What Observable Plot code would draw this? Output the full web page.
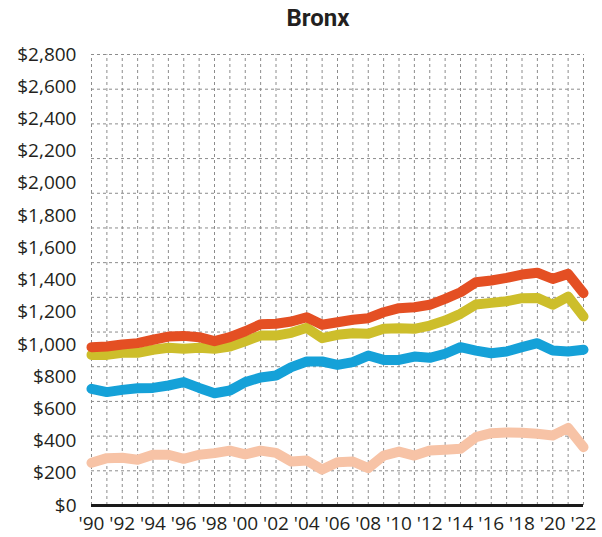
<!DOCTYPE html>
<html>
<head>
<meta charset="utf-8">
<script src="https://cdn.jsdelivr.net/npm/d3@7"></script>
<script src="https://cdn.jsdelivr.net/npm/@observablehq/plot@0.6"></script>
<style>
  html, body { margin: 0; padding: 0; background: #fff; }
  #title { width: 602px; height: 36px; line-height: 36px; box-sizing: border-box; padding-left: 34px; text-align: center;
    font-family: "Liberation Sans Narrow", "Roboto", sans-serif; font-weight: bold; font-size: 24px; color: #231f20; }
</style>
</head>
<body>
<div id="title">Bronx</div>
<div id="chart"></div>
<script>
const years = [1990,1991,1992,1993,1994,1995,1996,1997,1998,1999,2000,2001,2002,2003,2004,2005,2006,2007,2008,2009,2010,2011,2012,2013,2014,2015,2016,2017,2018,2019,2020,2021,2022];
const seriesRed = [983,987,1000,1008,1029,1049,1053,1045,1020,1045,1082,1125,1128,1142,1169,1122,1138,1153,1163,1200,1225,1231,1246,1283,1324,1386,1397,1413,1434,1445,1407,1438,1318];
const seriesYellow = [935,935,948,948,967,979,973,979,973,987,1020,1055,1055,1072,1103,1039,1060,1070,1066,1097,1101,1097,1117,1148,1190,1248,1258,1268,1287,1289,1246,1297,1173];
const seriesBlue = [724,704,718,728,730,745,766,730,697,714,766,795,807,859,894,894,873,890,931,904,904,925,917,942,983,962,945,956,983,1008,962,956,967];
const seriesPink = [265,294,296,284,315,315,290,315,325,341,317,341,327,273,279,223,269,273,232,310,335,310,341,346,352,424,449,453,451,445,435,482,362];
const yTicks = [0,200,400,600,800,1000,1200,1400,1600,1800,2000,2200,2400,2600,2800];
const xTicks = [1990,1992,1994,1996,1998,2000,2002,2004,2006,2008,2010,2012,2014,2016,2018,2020,2022];
// the reference draws its horizontal grid in 13 equal bands of the axis span
const gridY = d3.range(14).map(i => i * 2800 / 13);

const seriesList = [
  {name: "pink", values: seriesPink, color: "#f7c3a6"},
  {name: "blue", values: seriesBlue, color: "#15a1d8"},
  {name: "yellow", values: seriesYellow, color: "#cdbe2b"},
  {name: "red", values: seriesRed, color: "#e44f23"}
];

const lineMarks = seriesList.map(s => Plot.line(
  years.map((y, i) => ({year: y, value: s.values[i]})),
  {x: "year", y: "value", stroke: s.color, strokeWidth: 10, strokeLinecap: "round", strokeLinejoin: "round"}
));

const chart = Plot.plot({
  width: 602,
  height: 501,
  marginTop: 18,
  marginBottom: 32,
  marginLeft: 91,
  marginRight: 19,
  style: {fontFamily: "'Open Sans', sans-serif", fontSize: "19px", color: "#231f20", background: "#fff"},
  x: {domain: [1990, 2022], ticks: xTicks, tickFormat: d => "'" + String(d).slice(2), tickSize: 0, tickPadding: 11, label: null},
  y: {domain: [0, 2800], ticks: yTicks, tickFormat: d => "$" + d3.format(",")(d), tickSize: 0, tickPadding: 15, label: null},
  marks: [
    Plot.ruleX(years, {x: d => d, y1: 0, y2: 2800, stroke: "#8c8c8c", strokeWidth: 1, strokeDasharray: "3,3"}),
    Plot.ruleY(gridY, {y: d => d, stroke: "#8c8c8c", strokeWidth: 1, strokeDasharray: "3,3"}),
    ...lineMarks,
    Plot.ruleY([0], {stroke: "#1a1a1a", strokeWidth: 3})
  ]
});
document.getElementById("chart").appendChild(chart);
</script>
</body>
</html>
